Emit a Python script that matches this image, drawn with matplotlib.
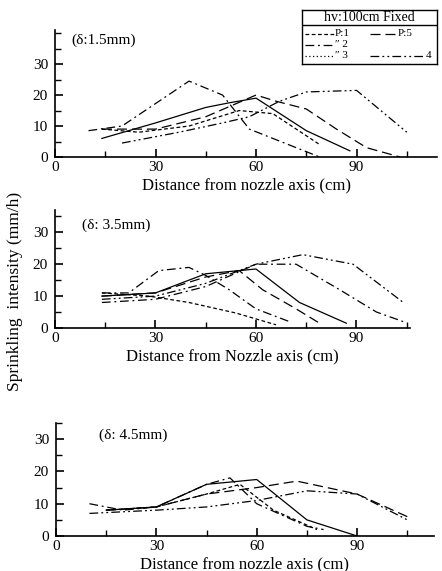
import matplotlib
matplotlib.use("Agg")
import matplotlib.pyplot as plt
from matplotlib.ticker import MultipleLocator

plt.rcParams['font.family'] = ['Liberation Serif', 'DejaVu Serif']

# line styles (black ink)
DASH = (0, (3, 2))
DASHDOT = (0, (7, 3, 1.5, 3))
DASHDOTDOT = (0, (7, 2.5, 1.5, 2.5, 1.5, 2.5))
LONGDASH = (0, (8, 4))
SOLID = '-'

# ---- panel 1 (d: 1.5 mm) ----
p1_a_x = [10, 20, 40, 50, 58, 79]
p1_a_y = [8.5, 10, 24.5, 20, 9, 0]
p1_b_x = [14, 30, 45, 52, 60, 75, 88]
p1_b_y = [6, 11, 16, 17.5, 19, 8.5, 2]
p1_c_x = [20, 37, 50, 58, 67, 75, 90, 105]
p1_c_y = [4.5, 8, 11, 13, 18, 21, 21.5, 8]
p1_d_x = [14, 30, 45, 60, 66, 75, 84, 93, 103]
p1_d_y = [9, 9, 13, 20, 18, 15.5, 9, 3, 0]
p1_e_x = [14, 25, 40, 55, 65, 79]
p1_e_y = [9, 8, 10, 15, 14, 4]

# ---- panel 2 (d: 3.5 mm) ----
p2_a_x = [14, 22, 31, 40, 45, 52, 60, 70]
p2_a_y = [11, 11, 18, 19, 16.5, 12, 6, 2]
p2_b_x = [14, 28, 40, 54, 66]
p2_b_y = [11, 10, 8, 4.7, 1]
p2_c_x = [14, 30, 45, 55, 62, 72, 79]
p2_c_y = [10, 11, 16, 18, 12, 6, 1.5]
p2_d_x = [14, 30, 45, 60, 73, 87]
p2_d_y = [10, 11, 17, 18.5, 8, 1.5]
p2_e_x = [14, 30, 45, 60, 72, 85, 96, 104]
p2_e_y = [8, 9, 13, 20, 20, 12, 5, 2]
p2_f_x = [14, 30, 45, 60, 74, 89, 104]
p2_f_y = [9, 10, 14, 20, 23, 20, 8]

# ---- panel 3 (d: 4.5 mm) ----
p3_a_x = [15, 30, 45, 60, 75, 90]
p3_a_y = [8, 9, 16, 17.5, 5, 0]
p3_b_x = [10, 20, 30, 45, 52, 60, 75, 80]
p3_b_y = [10, 8, 9, 16, 18, 10, 3, 2]
p3_c_x = [15, 30, 45, 55, 65, 78]
p3_c_y = [8, 9, 13, 16, 8, 2]
p3_d_x = [10, 30, 45, 60, 75, 90, 105]
p3_d_y = [7, 8, 9, 11, 14, 13, 5]
p3_e_x = [15, 30, 45, 60, 72, 90, 105]
p3_e_y = [8, 9, 13, 15, 17, 13, 6]

panels = [
    dict(rect=[55/442, 1-157/571, 382/442, 127/571], xmax=114, ymax=41,
         title="(δ:1.5mm)", tpos=(5, 36.5),
         xlabel="Distance from nozzle axis (cm)",
         series=[(p1_a_x, p1_a_y, DASHDOT), (p1_b_x, p1_b_y, SOLID),
                 (p1_c_x, p1_c_y, DASHDOTDOT), (p1_d_x, p1_d_y, LONGDASH),
                 (p1_e_x, p1_e_y, DASH)]),
    dict(rect=[55/442, 1-328/571, 355/442, 118/571], xmax=106, ymax=37,
         title="(δ: 3.5mm)", tpos=(8, 31),
         xlabel="Distance from Nozzle axis (cm)",
         series=[(p2_a_x, p2_a_y, DASHDOT), (p2_b_x, p2_b_y, DASH),
                 (p2_c_x, p2_c_y, LONGDASH), (p2_d_x, p2_d_y, SOLID),
                 (p2_e_x, p2_e_y, DASHDOT), (p2_f_x, p2_f_y, DASHDOTDOT)]),
    dict(rect=[56/442, 1-536/571, 378/442, 113/571], xmax=113, ymax=35,
         title="(δ: 4.5mm)", tpos=(13, 30),
         xlabel="Distance from nozzle axis (cm)",
         series=[(p3_a_x, p3_a_y, SOLID), (p3_b_x, p3_b_y, DASHDOT),
                 (p3_c_x, p3_c_y, DASH), (p3_d_x, p3_d_y, DASHDOTDOT),
                 (p3_e_x, p3_e_y, LONGDASH)]),
]

fig = plt.figure(figsize=(4.42, 5.71), dpi=100)

for p in panels:
    ax = fig.add_axes(p['rect'])
    for xs, ys, ls in p['series']:
        ax.plot(xs, ys, color='black', linestyle=ls, linewidth=0.9)
    ax.set_xlim(0, p['xmax'])
    ax.set_ylim(0, p['ymax'])
    ax.spines['top'].set_visible(False)
    ax.spines['right'].set_visible(False)
    ax.spines['left'].set_linewidth(1.2)
    ax.spines['bottom'].set_linewidth(1.2)
    ax.set_xticks([0, 30, 60, 90])
    ax.xaxis.set_minor_locator(MultipleLocator(15))
    ax.set_yticks([0, 10, 20, 30])
    ax.yaxis.set_minor_locator(MultipleLocator(5))
    ax.tick_params(axis='both', which='major', direction='in', length=6,
                   width=1.2, labelsize=11)
    ax.tick_params(axis='x', which='major', pad=3)
    ax.tick_params(axis='y', which='major', pad=5)
    ax.tick_params(axis='both', which='minor', direction='in', length=4,
                   width=1)
    ax.set_xlabel(p['xlabel'], fontsize=12, labelpad=2)
    ax.text(p['tpos'][0], p['tpos'][1], p['title'], fontsize=11)
    ax.patch.set_alpha(0)

fig.text(0.035, 0.49, "Sprinkling  intensity (mm/h)", rotation=90,
         ha='center', va='center', fontsize=12.5)

# legend box drawn by hand
lg = fig.add_axes([302/442, 1-64/571, 135/442, 54/571])
lg.set_xlim(0, 135)
lg.set_ylim(54, 0)
lg.set_xticks([])
lg.set_yticks([])
for s in lg.spines.values():
    s.set_linewidth(1)
lg.axhline(15, color='black', linewidth=1)
lg.text(67, 7.5, "hv:100cm Fixed", ha='center', va='center', fontsize=10)
legend_left = [(DASH, "P:1"), (DASHDOT, "″ 2"), ((0, (1, 2)), "″ 3")]
for i, (ls, lab) in enumerate(legend_left):
    yy = 23.5 + i * 11
    lg.plot([3, 32], [yy, yy], color='black', linestyle=ls, linewidth=0.9)
    lg.text(33, yy, lab, va='center', fontsize=8)
lg.plot([68, 95], [23.5, 23.5], color='black', linestyle=LONGDASH, linewidth=0.9)
lg.text(96, 23.5, "P:5", va='center', fontsize=8)
lg.plot([68, 122], [45.5, 45.5], color='black', linestyle=DASHDOTDOT, linewidth=0.9)
lg.text(124, 45.5, "4", va='center', fontsize=8)

fig.savefig("out.png", dpi=100)
